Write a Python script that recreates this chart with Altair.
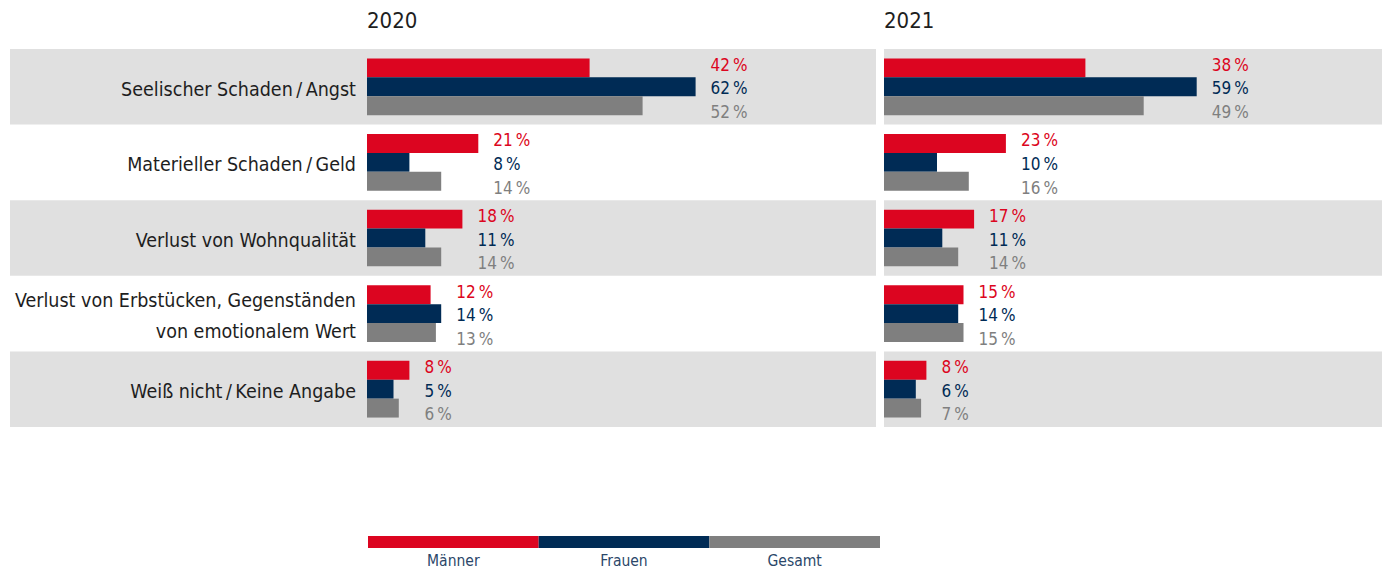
import altair as alt
import pandas as pd

categories = [
    "Seelischer Schaden\u2009/\u2009Angst",
    "Materieller Schaden\u2009/\u2009Geld",
    "Verlust von Wohnqualität",
    "Verlust von Erbstücken, Gegenständen von emotionalem Wert",
    "Weiß nicht\u2009/\u2009Keine Angabe",
]
category_lines = [
    ["Seelischer Schaden\u2009/\u2009Angst"],
    ["Materieller Schaden\u2009/\u2009Geld"],
    ["Verlust von Wohnqualität"],
    ["Verlust von Erbstücken, Gegenständen", "von emotionalem Wert"],
    ["Weiß nicht\u2009/\u2009Keine Angabe"],
]
series = ["Männer", "Frauen", "Gesamt"]
colors = ["#dc0520", "#002b55", "#7f7f7f"]
years = ["2020", "2021"]

maenner_2020 = [42, 21, 18, 12, 8]
frauen_2020 = [62, 8, 11, 14, 5]
gesamt_2020 = [52, 14, 14, 13, 6]
maenner_2021 = [38, 23, 17, 15, 8]
frauen_2021 = [59, 10, 11, 14, 6]
gesamt_2021 = [49, 16, 14, 15, 7]

values = {
    "2020": [maenner_2020, frauen_2020, gesamt_2020],
    "2021": [maenner_2021, frauen_2021, gesamt_2021],
}

FONT = "Liberation Sans Narrow, DejaVu Sans Condensed, Roboto, sans-serif"
PX = 5.3  # pixels per percent point
BAND = "#e0e0e0"
TEXT = "#1e1e1e"
LINE_H = 31

rows = []
for y in years:
    for si, s in enumerate(series):
        for ci, c in enumerate(categories):
            v = values[y][si][ci]
            rows.append({"year": y, "category": c, "series": s, "value": v,
                         "label": f"{v}\u202f%"})
df = pd.DataFrame(rows)
df_bands = pd.DataFrame({"category": categories[::2]})
df_cats = pd.DataFrame({"category": categories, "lines": category_lines,
                        "n": [len(l) for l in category_lines]})


def panel(year, left_px, width):
    xmin = -left_px / PX
    xmax = (width - left_px) / PX
    xs = alt.Scale(domain=[xmin, xmax], nice=False, zero=False)
    Y = alt.Y("category:N", scale=alt.Scale(domain=categories, paddingInner=0, paddingOuter=0),
              axis=None, sort=categories)
    d = df[df.year == year]

    bands = alt.Chart(df_bands).mark_rect(color=BAND).encode(
        y=Y, x=alt.value(0), x2=alt.value(width))

    bars = alt.Chart(d).mark_bar().encode(
        y=Y,
        yOffset=alt.YOffset("series:N", sort=series,
                            scale=alt.Scale(domain=series, paddingInner=0, paddingOuter=0.5)),
        x=alt.X("value:Q", scale=xs, axis=None),
        x2=alt.datum(0),
        color=alt.Color("series:N", scale=alt.Scale(domain=series, range=colors), legend=None),
    )

    layers = [bands, bars]
    for i, s in enumerate(series):
        t = alt.Chart(d).transform_joinaggregate(
            rowmax="max(value)", groupby=["category"]
        ).transform_calculate(
            tx=f"datum.rowmax + {15 / PX}"
        ).transform_filter(
            alt.datum.series == s
        ).mark_text(align="left", baseline="middle", fontSize=17, font=FONT,
                    color=colors[i], dy=(i - 1) * 23.6 + 2.5).encode(
            x=alt.X("tx:Q", scale=xs, axis=None),
            y=Y,
            text="label:N",
        )
        layers.append(t)

    if left_px > 0:
        for n in sorted(set(df_cats.n)):
            cats = alt.Chart(df_cats).transform_filter(
                alt.datum.n == n
            ).mark_text(
                align="right", baseline="middle", fontSize=19.5, font=FONT, color=TEXT,
                lineHeight=LINE_H, dy=-(n - 1) * LINE_H / 2 + 3,
            ).encode(
                x=alt.datum(-11 / PX),
                y=Y,
                text="lines",
            )
            layers.append(cats)

    return alt.layer(*layers).properties(
        width=width, height=378,
        title=alt.TitleParams(text=year, anchor="start", dx=left_px, fontSize=22,
                              fontWeight="normal", font=FONT, color=TEXT, offset=15.7),
    )


p2020 = panel("2020", 357, 866)
p2021 = panel("2021", 0, 498)

df_leg = pd.DataFrame({"series": series})
LX = alt.X("series:N", sort=series, axis=None,
           scale=alt.Scale(domain=series, range=[358, 870], paddingInner=0, paddingOuter=0))
leg_rect = alt.Chart(df_leg).mark_rect().encode(
    x=LX, y=alt.value(0), y2=alt.value(12),
    color=alt.Color("series:N", scale=alt.Scale(domain=series, range=colors), legend=None),
)
leg_text = alt.Chart(df_leg).mark_text(baseline="middle", fontSize=15.5, font=FONT,
                                       color="#2b4769").encode(
    x=LX, y=alt.value(25), text="series:N")
legend = alt.layer(leg_rect, leg_text).properties(width=870, height=33)

chart = alt.vconcat(
    alt.hconcat(p2020, p2021, spacing=8),
    legend,
    spacing=109,
).properties(
    padding={"left": 2, "top": 2, "right": 0, "bottom": 0},
).configure_view(stroke=None).configure_concat(spacing=8)

chart.save("out.html", embed_options={"renderer": "svg", "actions": False})
